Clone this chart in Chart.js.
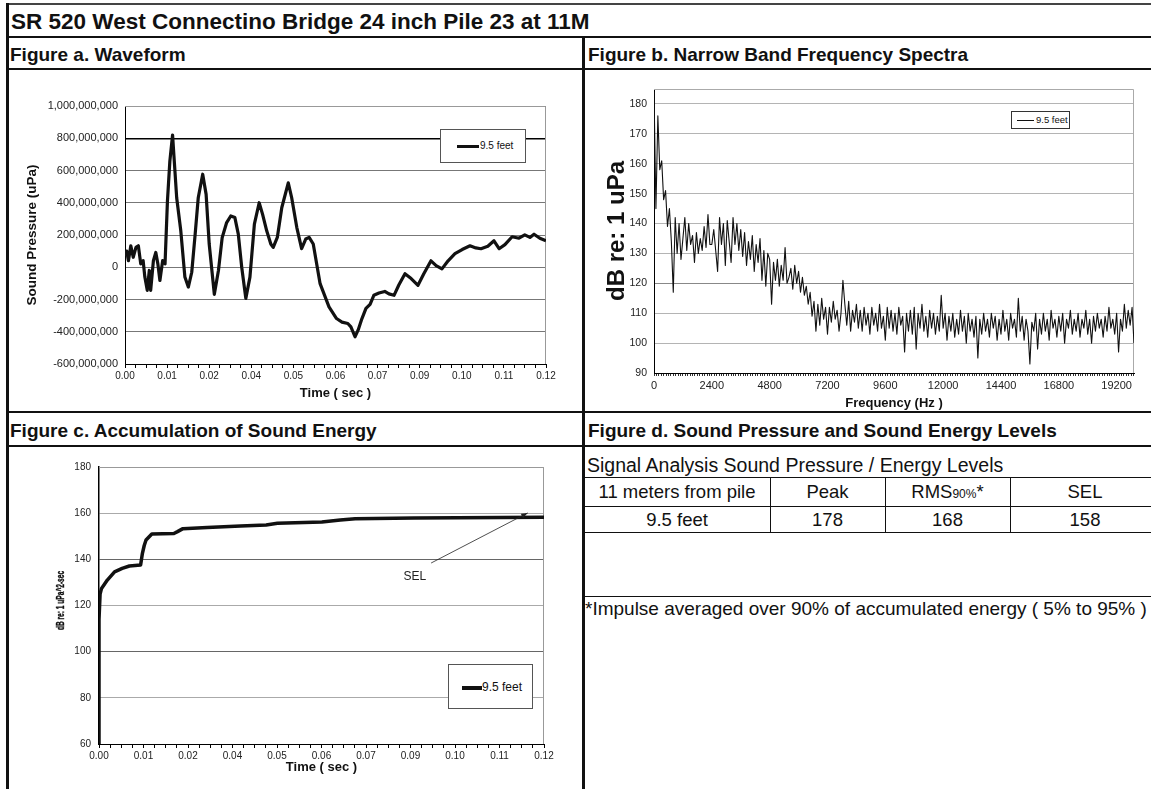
<!DOCTYPE html>
<html>
<head>
<meta charset="utf-8">
<script src="https://cdn.jsdelivr.net/npm/chart.js@4.4.1/dist/chart.umd.min.js"></script>
<style>
  html, body { margin: 0; padding: 0; background: #fff; }
  body { width: 1151px; height: 789px; position: relative; overflow: hidden;
         font-family: "Liberation Sans", Arial, Helvetica, sans-serif; color: #111; }
  .ln { position: absolute; background: #111; }
  .txt { position: absolute; white-space: nowrap; }
  .hdr { font-weight: bold; font-size: 19px; }
  .cell { position: absolute; text-align: center; font-size: 18.5px; white-space: nowrap; }
  canvas { position: absolute; }
  .legend { position: absolute; background: #fff; border: 1px solid #555; box-sizing: border-box; }
  .legend .swatch { position: absolute; background: #111; }
  .legend .lbl { position: absolute; white-space: nowrap; }
</style>
</head>
<body>

<!-- frame -->
<div class="ln" style="left:7px;top:3px;width:1144px;height:2px;background:#444"></div>
<div class="ln" style="left:6px;top:3px;width:3px;height:786px"></div>
<div class="txt" style="left:11px;top:6px;height:31px;line-height:31px;font-size:22.5px;font-weight:bold">SR 520 West Connectino Bridge 24 inch Pile 23 at 11M</div>
<div class="ln" style="left:7px;top:36px;width:1144px;height:2px"></div>
<div class="ln" style="left:582px;top:36px;width:3px;height:753px"></div>
<div class="txt hdr" style="left:10px;top:39px;height:30px;line-height:31px">Figure a. Waveform</div>
<div class="txt hdr" style="left:588px;top:39px;height:30px;line-height:31px">Figure b. Narrow Band Frequency Spectra</div>
<div class="ln" style="left:7px;top:68px;width:1144px;height:2px"></div>
<div class="ln" style="left:7px;top:411px;width:1144px;height:2px"></div>
<div class="txt hdr" style="left:10px;top:415px;height:30px;line-height:31px">Figure c. Accumulation of Sound Energy</div>
<div class="txt hdr" style="left:588px;top:415px;height:30px;line-height:31px">Figure d. Sound Pressure and Sound Energy Levels</div>
<div class="ln" style="left:7px;top:445px;width:1144px;height:2px"></div>

<!-- figure d table -->
<div class="txt" style="left:587px;top:453px;height:24px;line-height:24px;font-size:19.5px">Signal Analysis Sound Pressure / Energy Levels</div>
<div class="ln" style="left:584px;top:477px;width:567px;height:1px"></div>
<div class="cell" style="left:584px;width:186px;top:478px;line-height:28px">11 meters from pile</div>
<div class="cell" style="left:770px;width:115px;top:478px;line-height:28px">Peak</div>
<div class="cell" style="left:885px;width:125px;top:478px;line-height:28px">RMS<span style="font-size:12px">90%</span>*</div>
<div class="cell" style="left:1010px;width:150px;top:478px;line-height:28px">SEL</div>
<div class="ln" style="left:584px;top:506px;width:567px;height:1px"></div>
<div class="cell" style="left:584px;width:186px;top:507px;line-height:25px">9.5 feet</div>
<div class="cell" style="left:770px;width:115px;top:507px;line-height:25px">178</div>
<div class="cell" style="left:885px;width:125px;top:507px;line-height:25px">168</div>
<div class="cell" style="left:1010px;width:150px;top:507px;line-height:25px">158</div>
<div class="ln" style="left:584px;top:532px;width:567px;height:1px"></div>
<div class="ln" style="left:770px;top:477px;width:1px;height:56px"></div>
<div class="ln" style="left:885px;top:477px;width:1px;height:56px"></div>
<div class="ln" style="left:1010px;top:477px;width:1px;height:56px"></div>
<div class="ln" style="left:584px;top:596px;width:567px;height:1px"></div>
<div class="txt" style="left:585px;top:597px;height:24px;line-height:24px;font-size:19px">*Impulse averaged over 90% of accumulated energy ( 5% to 95% )</div>

<canvas id="chart-wave" width="572" height="340" style="left:10px;top:72px"></canvas>
<canvas id="chart-spec" width="565" height="340" style="left:586px;top:72px"></canvas>
<canvas id="chart-sel" width="572" height="341" style="left:10px;top:448px"></canvas>

<div class="legend" style="left:440px;top:129px;width:86px;height:34px">
  <div class="swatch" style="left:16px;top:15px;width:22px;height:3px"></div>
  <div class="lbl" style="left:39px;top:0;line-height:32px;font-size:10px">9.5 feet</div>
</div>
<div class="legend" style="left:1011px;top:111px;width:59px;height:18px;border-color:#333">
  <div class="swatch" style="left:5px;top:8px;width:17px;height:1px"></div>
  <div class="lbl" style="left:24px;top:0;line-height:16px;font-size:9.5px">9.5 feet</div>
</div>
<div class="legend" style="left:448px;top:664px;width:85px;height:45px">
  <div class="swatch" style="left:13px;top:21px;width:20px;height:4px"></div>
  <div class="lbl" style="left:33px;top:0;line-height:44px;font-size:12px">9.5 feet</div>
</div>

<script>
// ── Figure a: waveform ──
const waveTime = [0, 0.0005, 0.0010, 0.0017, 0.0024, 0.0032, 0.0039, 0.0046, 0.0053, 0.0058,
  0.0065, 0.0071, 0.0075, 0.0083, 0.0090, 0.0096, 0.0102, 0.0110, 0.0117, 0.0124,
  0.0131, 0.0139, 0.0143, 0.0151, 0.0163, 0.0175, 0.0185, 0.0195, 0.0205, 0.0214,
  0.0227, 0.0237, 0.0246, 0.0261, 0.0273, 0.0284, 0.0297, 0.0309, 0.0321, 0.0331,
  0.0341, 0.0353, 0.0365, 0.0378, 0.0392, 0.0402, 0.0414, 0.0426, 0.0433, 0.0445,
  0.0458, 0.0477, 0.0487, 0.0502, 0.0516, 0.0528, 0.0538, 0.0550, 0.0570, 0.0596,
  0.0618, 0.0634, 0.0651, 0.0660, 0.0672, 0.0681, 0.0692, 0.0704, 0.0716, 0.0727,
  0.0742, 0.0759, 0.0771, 0.0786, 0.0800, 0.0818, 0.0836, 0.0856, 0.0873, 0.0894,
  0.0909, 0.0926, 0.0944, 0.0964, 0.0985, 0.1008, 0.1025, 0.1040, 0.1060, 0.1078,
  0.1093, 0.1110, 0.1131, 0.1151, 0.1168, 0.1183, 0.1195, 0.1212, 0.1230];
const wavePressure = [70e6, 100e6, 41e6, 133e6, 62e6, 123e6, 133e6, 21e6, 41e6, -61e6,
  -143e6, -20e6, -143e6, 41e6, 92e6, 21e6, -82e6, 41e6, 21e6, 410e6,
  657e6, 820e6, 690e6, 431e6, 226e6, -61e6, -123e6, -31e6, 205e6, 431e6,
  577e6, 452e6, 144e6, -168e6, -20e6, 185e6, 277e6, 318e6, 308e6, 205e6,
  0, -193e6, -61e6, 267e6, 400e6, 328e6, 226e6, 144e6, 123e6, 185e6,
  369e6, 523e6, 431e6, 246e6, 115e6, 175e6, 185e6, 144e6, -102e6, -246e6,
  -318e6, -340e6, -349e6, -370e6, -431e6, -390e6, -320e6, -255e6, -230e6, -174e6,
  -160e6, -150e6, -165e6, -174e6, -110e6, -40e6, -70e6, -112e6, -40e6, 40e6,
  10e6, -10e6, 40e6, 84e6, 110e6, 133e6, 120e6, 115e6, 130e6, 164e6,
  115e6, 140e6, 189e6, 180e6, 201e6, 185e6, 205e6, 180e6, 164e6];

// shared time axis (Excel category labels, rounded)
const timeMax = 0.123;
const timeLabels = ['0.00', '0.01', '0.02', '0.04', '0.05', '0.06', '0.07', '0.09', '0.10', '0.11', '0.12'];

// ── Figure b: narrow band spectrum, one level every specStep Hz ──
const specStep = 80;
const freqMax = 19920;
const freqLabels = [0, 2400, 4800, 7200, 9600, 12000, 14400, 16800, 19200];
const specLevels = [
  184, 145, 176, 158, 161, 148, 151, 139, 145, 134,
  117, 142, 130, 140, 128, 135, 142, 131, 140, 133,
  136, 127, 137, 130, 135, 131, 139, 132, 143, 133,
  133, 138, 131, 124, 142, 133, 140, 126, 141, 134,
  127, 142, 133, 140, 131, 138, 129, 137, 126, 134,
  128, 136, 124, 133, 127, 135, 121, 131, 119, 130,
  128, 113, 127, 121, 128, 119, 126, 121, 132, 120,
  122, 125, 118, 126, 120, 124, 117, 122, 116, 119,
  113, 117, 109, 114, 104, 113, 106, 115, 108, 112,
  103, 112, 107, 114, 108, 111, 104, 110, 121, 113,
  106, 114, 104, 111, 107, 113, 105, 111, 104, 112,
  106, 110, 103, 112, 106, 110, 104, 113, 105, 109,
  101, 112, 105, 111, 104, 110, 103, 112, 106, 109,
  97, 110, 104, 111, 103, 112, 98, 110, 105, 113,
  104, 109, 102, 111, 105, 110, 103, 109, 104, 116,
  105, 110, 101, 109, 104, 110, 102, 108, 103, 111,
  104, 109, 100, 110, 104, 108, 102, 109, 95, 108,
  103, 110, 104, 108, 102, 110, 105, 109, 101, 108,
  103, 111, 104, 108, 101, 110, 105, 108, 102, 115,
  104, 109, 101, 108, 104, 93, 107, 104, 110, 98,
  108, 103, 110, 104, 108, 101, 111, 105, 108, 102,
  109, 104, 110, 100, 108, 105, 111, 103, 108, 104,
  110, 102, 108, 105, 111, 103, 108, 100, 109, 104,
  110, 105, 108, 102, 109, 104, 112, 105, 108, 103,
  110, 97, 108, 104, 113, 105, 111, 106, 112, 100];

// ── Figure c: accumulated sound energy ──
const accTime = [0, 0, 0.0003, 0.0007, 0.0023, 0.0043, 0.0064, 0.0084, 0.0115, 0.0120,
  0.0125, 0.0130, 0.0146, 0.0207, 0.0217, 0.0232, 0.0299, 0.0391, 0.0462, 0.0493,
  0.0616, 0.0667, 0.0708, 0.0871, 0.1230];
const accLevel = [60, 114, 125, 127.4, 131, 134.6, 136.1, 137.1, 137.5, 142.6,
  146, 148.4, 151, 151.2, 152, 153.3, 153.8, 154.4, 154.9, 155.6,
  156.2, 157, 157.6, 157.9, 158.2];
const selArrowFrom = [0.0918, 138.4];
const selArrowTo = [0.1185, 160.1];
const selLabelAt = [0.0873, 132.3];

const seriesName = '9.5 feet';

Chart.defaults.font.family = '"Liberation Sans", Arial, Helvetica, sans-serif';
Chart.defaults.color = '#222';

// grey top/right edge of the plot box (Excel style)
const plotFrame = {
  id: 'plotFrame',
  beforeDatasetsDraw(chart, args, opts) {
    const { ctx, chartArea: a } = chart;
    ctx.save();
    ctx.strokeStyle = opts.color || '#999';
    ctx.lineWidth = 1;
    ctx.beginPath();
    ctx.moveTo(a.left, a.top + 0.5);
    ctx.lineTo(a.right - 0.5, a.top + 0.5);
    ctx.lineTo(a.right - 0.5, a.bottom);
    ctx.stroke();
    ctx.restore();
  }
};

// squeezed rotated y title of figure c
const squeezedTitle = {
  id: 'squeezedTitle',
  afterDraw(chart, args, opts) {
    if (!opts.text) return;
    const { ctx, chartArea: a } = chart;
    ctx.save();
    ctx.translate(opts.x, (a.top + a.bottom) / 2 + (opts.dy || 0));
    ctx.rotate(-Math.PI / 2);
    ctx.scale(opts.squeeze || 0.7, 1);
    ctx.font = 'bold 11px "Liberation Sans", Arial, sans-serif';
    ctx.textAlign = 'center';
    ctx.textBaseline = 'middle';
    ctx.fillStyle = '#111';
    ctx.strokeStyle = '#111';
    ctx.lineWidth = 0.4;
    ctx.fillText(opts.text, 0, 0);
    ctx.strokeText(opts.text, 0, 0);
    ctx.restore();
  }
};

// SEL label with arrow pointing at the curve
const selNote = {
  id: 'selNote',
  afterDatasetsDraw(chart, args, opts) {
    if (!opts.to) return;
    const { ctx, scales: { x, y } } = chart;
    const fx = x.getPixelForValue(opts.from[0]), fy = y.getPixelForValue(opts.from[1]);
    const tx = x.getPixelForValue(opts.to[0]), ty = y.getPixelForValue(opts.to[1]);
    ctx.save();
    ctx.strokeStyle = '#222';
    ctx.fillStyle = '#222';
    ctx.lineWidth = 0.8;
    ctx.beginPath(); ctx.moveTo(fx, fy); ctx.lineTo(tx, ty); ctx.stroke();
    const ang = Math.atan2(ty - fy, tx - fx);
    ctx.beginPath();
    ctx.moveTo(tx, ty);
    ctx.lineTo(tx - 7 * Math.cos(ang - 0.35), ty - 7 * Math.sin(ang - 0.35));
    ctx.lineTo(tx - 7 * Math.cos(ang + 0.35), ty - 7 * Math.sin(ang + 0.35));
    ctx.closePath(); ctx.fill();
    ctx.font = '12px "Liberation Sans", Arial, sans-serif';
    ctx.textAlign = 'center'; ctx.textBaseline = 'middle';
    ctx.fillText(opts.text, x.getPixelForValue(opts.labelAt[0]), y.getPixelForValue(opts.labelAt[1]));
    ctx.restore();
  }
};

function timeAxis(boxHeight, titleBottom) {
  const minorPerMajor = 4;
  return {
    type: 'linear', min: 0, max: timeMax,
    afterBuildTicks: s => {
      const n = (timeLabels.length - 1) * minorPerMajor;
      s.ticks = Array.from({ length: n + 1 }, (_, i) => ({ value: i * timeMax / n }));
    },
    afterFit: s => { s.height = boxHeight; },
    ticks: { autoSkip: false, maxRotation: 0, padding: 2, font: { size: 10 },
      callback: (v, i) => i % minorPerMajor === 0 ? timeLabels[i / minorPerMajor] : '' },
    grid: { drawOnChartArea: false, tickLength: 4, color: '#000' },
    border: { color: '#000', width: 1 },
    title: { display: true, text: 'Time ( sec )', color: '#111',
      font: { size: 13, weight: 'bold' }, padding: { top: 0, bottom: titleBottom } }
  };
}

const common = {
  responsive: false, animation: false, devicePixelRatio: 1,
  elements: { point: { radius: 0 }, line: { tension: 0, borderJoinStyle: 'round' } },
};

// ── chart a ──
new Chart(document.getElementById('chart-wave'), {
  type: 'line',
  data: { datasets: [{ label: seriesName, data: waveTime.map((t, i) => ({ x: t, y: wavePressure[i] })),
    borderColor: '#111', borderWidth: 3.2 }] },
  options: {
    ...common,
    layout: { padding: { left: 0, top: 34, right: 36, bottom: 0 } },
    plugins: { legend: { display: false }, tooltip: { enabled: false }, plotFrame: { color: '#999' } },
    scales: {
      x: timeAxis(48, 11),
      y: {
        min: -600e6, max: 1000e6,
        afterFit: s => { s.width = 115; },
        ticks: { stepSize: 200e6, padding: 7, font: { size: 11 }, callback: v => v.toLocaleString('en-US') },
        grid: { drawTicks: false, color: c => c.tick.value === 800e6 ? '#000' : '#777',
          lineWidth: c => c.tick.value === 800e6 ? 1.5 : 1 },
        border: { color: '#000', width: 1 },
        title: { display: true, text: 'Sound Pressure (uPa)', color: '#111',
          font: { size: 13.5, weight: 'bold' }, padding: { top: 14, bottom: 0 } }
      }
    }
  },
  plugins: [plotFrame]
});

// ── chart b ──
new Chart(document.getElementById('chart-spec'), {
  type: 'line',
  data: { datasets: [{ label: seriesName, data: specLevels.map((v, i) => ({ x: i * specStep, y: v })),
    borderColor: '#111', borderWidth: 1.1 }] },
  options: {
    ...common,
    layout: { padding: { left: 0, top: 17, right: 17, bottom: 0 } },
    plugins: { legend: { display: false }, tooltip: { enabled: false }, plotFrame: { color: '#aaa' } },
    scales: {
      x: {
        type: 'linear', min: 0, max: freqMax,
        afterBuildTicks: s => {
          const t = [];
          for (let v = 0; v <= freqMax; v += 100) t.push({ value: v });
          s.ticks = t;
        },
        afterFit: s => { s.height = 39; },
        ticks: { autoSkip: false, maxRotation: 0, padding: 3, font: { size: 11 },
          callback: v => freqLabels.includes(v) ? String(v) : '' },
        grid: { drawOnChartArea: false, tickLength: 3, color: '#333' },
        border: { color: '#000', width: 1 },
        title: { display: true, text: 'Frequency (Hz )', color: '#111',
          font: { size: 13, weight: 'bold' }, padding: { top: 0, bottom: 1 } }
      },
      y: {
        min: 90, max: 185,
        afterFit: s => { s.width = 68; },
        ticks: { stepSize: 10, includeBounds: false, padding: 7, font: { size: 10.5 } },
        grid: { drawTicks: false, color: c => c.tick.value === 120 ? '#888' : '#b4b4b4' },
        border: { color: '#000', width: 1 },
        title: { display: true, text: 'dB re: 1 uPa', color: '#111',
          font: { size: 24, weight: 'bold' }, padding: { top: 17, bottom: 0 } }
      }
    }
  },
  plugins: [plotFrame]
});

// ── chart c ──
new Chart(document.getElementById('chart-sel'), {
  type: 'line',
  data: { datasets: [{ label: seriesName, data: accTime.map((t, i) => ({ x: t, y: accLevel[i] })),
    borderColor: '#111', borderWidth: 3.5 }] },
  options: {
    ...common,
    layout: { padding: { left: 0, top: 19, right: 38, bottom: 0 } },
    plugins: {
      legend: { display: false }, tooltip: { enabled: false },
      plotFrame: { color: '#999' },
      squeezedTitle: { text: 'dB re: 1 uPa^2-sec', x: 51, dy: -5, squeeze: 0.6 },
      selNote: { text: 'SEL', from: selArrowFrom, to: selArrowTo, labelAt: selLabelAt }
    },
    scales: {
      x: timeAxis(45, 14),
      y: {
        min: 60, max: 180,
        afterFit: s => { s.width = 89; },
        ticks: { stepSize: 20, padding: 8, font: { size: 10 } },
        grid: { drawTicks: false, color: c => (c.tick.value === 140 || c.tick.value === 100) ? '#666' : '#aaa' },
        border: { color: '#000', width: 1.5 }
      }
    }
  },
  plugins: [plotFrame, squeezedTitle, selNote]
});
</script>
</body>
</html>
